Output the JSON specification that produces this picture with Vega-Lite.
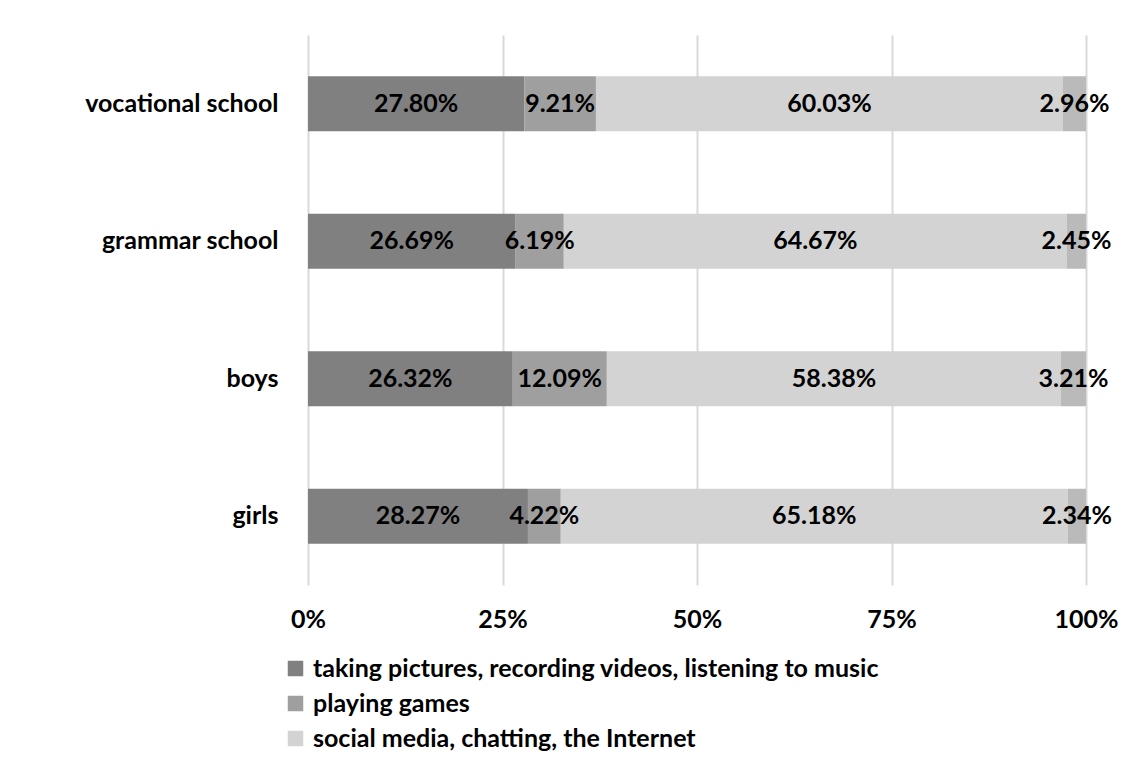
{
  "$schema": "https://vega.github.io/schema/vega-lite/v6.json",
  "width": 778,
  "height": 550,
  "autosize": {"type": "none"},
  "padding": {"left": 308, "top": 35, "right": 49, "bottom": 179},
  "background": "white",
  "config": {
    "font": "Lato",
    "view": {"stroke": null},
    "axis": {"labelFont": "Lato", "labelFontWeight": "bold", "labelColor": "#000000", "labelFontSize": 25, "labelLimit": 400}
  },
  "data": {
    "values": [
      {"group": "vocational school", "category": "taking pictures, recording videos, listening to music", "order": 1, "value": 0.2780},
      {"group": "vocational school", "category": "playing games", "order": 2, "value": 0.0921},
      {"group": "vocational school", "category": "social media, chatting, the Internet", "order": 3, "value": 0.6003},
      {"group": "vocational school", "category": "other", "order": 4, "value": 0.0296},
      {"group": "grammar school", "category": "taking pictures, recording videos, listening to music", "order": 1, "value": 0.2669},
      {"group": "grammar school", "category": "playing games", "order": 2, "value": 0.0619},
      {"group": "grammar school", "category": "social media, chatting, the Internet", "order": 3, "value": 0.6467},
      {"group": "grammar school", "category": "other", "order": 4, "value": 0.0245},
      {"group": "boys", "category": "taking pictures, recording videos, listening to music", "order": 1, "value": 0.2632},
      {"group": "boys", "category": "playing games", "order": 2, "value": 0.1209},
      {"group": "boys", "category": "social media, chatting, the Internet", "order": 3, "value": 0.5838},
      {"group": "boys", "category": "other", "order": 4, "value": 0.0321},
      {"group": "girls", "category": "taking pictures, recording videos, listening to music", "order": 1, "value": 0.2827},
      {"group": "girls", "category": "playing games", "order": 2, "value": 0.0422},
      {"group": "girls", "category": "social media, chatting, the Internet", "order": 3, "value": 0.6518},
      {"group": "girls", "category": "other", "order": 4, "value": 0.0234}
    ]
  },
  "encoding": {
    "y": {
      "field": "group",
      "type": "nominal",
      "sort": ["vocational school", "grammar school", "boys", "girls"],
      "scale": {"paddingInner": 0.6, "paddingOuter": 0.3},
      "axis": {"title": null, "ticks": false, "domain": false, "labelPadding": 30, "grid": false, "labelLimit": 400}
    },
    "order": {"field": "order"}
  },
  "layer": [
    {
      "mark": {"type": "bar"},
      "encoding": {
        "x": {
          "field": "value",
          "type": "quantitative",
          "stack": "zero",
          "scale": {"domain": [0, 1], "nice": false, "clamp": true},
          "axis": {
            "title": null, "values": [0, 0.25, 0.5, 0.75, 1], "format": ".0%",
            "ticks": false, "domain": false, "grid": true, "gridColor": "#d9d9d9", "gridWidth": 2,
            "labelPadding": 22, "labelFlush": false
          }
        },
        "color": {
          "field": "category",
          "type": "nominal",
          "scale": {
            "domain": ["taking pictures, recording videos, listening to music", "playing games", "social media, chatting, the Internet", "other"],
            "range": ["#808080", "#9f9f9f", "#d3d3d3", "#bababa"]
          },
          "legend": {
            "values": ["taking pictures, recording videos, listening to music", "playing games", "social media, chatting, the Internet"],
            "title": null,
            "orient": "none",
            "legendX": -25,
            "legendY": 621,
            "direction": "vertical",
            "symbolType": "square",
            "symbolSize": 240,
            "symbolStrokeWidth": 0,
            "symbolOpacity": 1,
            "labelFont": "Lato",
            "labelFontWeight": "bold",
            "labelFontSize": 25,
            "labelColor": "#000000",
            "labelLimit": 900,
            "labelOffset": 5,
            "rowPadding": 9,
            "padding": 0
          }
        }
      }
    },
    {
      "mark": {"type": "text", "font": "Lato", "fontWeight": "bold", "fontSize": 25, "color": "#000000", "align": "center", "baseline": "middle"},
      "encoding": {
        "x": {"field": "value", "type": "quantitative", "stack": "zero", "bandPosition": 0.5},
        "text": {"field": "value", "type": "quantitative", "format": ".2%"}
      }
    }
  ]
}
